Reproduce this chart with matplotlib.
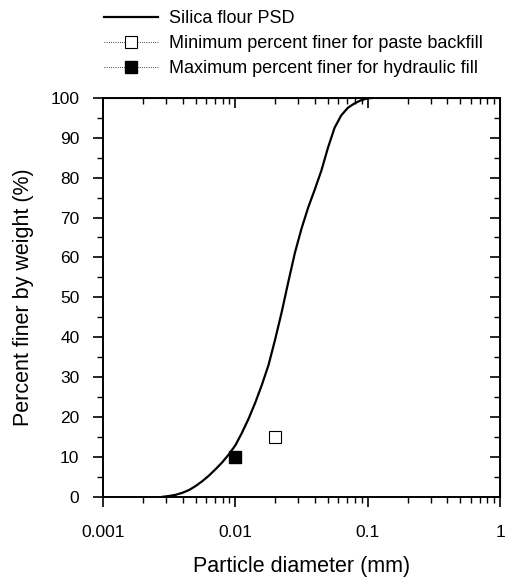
import numpy as np
import matplotlib.pyplot as plt

plt.rcParams['font.family'] = ['Liberation Sans', 'DejaVu Sans']

# curva granulometrica
diametro = [0.00282, 0.00316, 0.00355, 0.00398, 0.00447, 0.00501, 0.00562, 0.00631, 0.00708,
            0.00794, 0.00891, 0.0100, 0.0112, 0.0126, 0.0141, 0.0158, 0.0178, 0.0200, 0.0224,
            0.0251, 0.0282, 0.0316, 0.0355, 0.0398, 0.0447, 0.0501, 0.0562, 0.0631, 0.0708,
            0.0794, 0.0891, 0.100, 0.112, 1.0]
pasa = [0.0, 0.2, 0.5, 1.0, 1.7, 2.7, 3.9, 5.3, 6.9,
        8.6, 10.6, 12.9, 16.0, 19.6, 23.5, 27.9, 33.0, 39.5, 46.3,
        53.8, 61.2, 67.2, 72.5, 77.0, 81.8, 87.5, 92.5, 95.6, 97.5,
        98.6, 99.4, 99.9, 100.0, 100.0]

# puntos de referencia
pasta_x = [0.02]
pasta_y = [15]
hidraulico_x = [0.01]
hidraulico_y = [10]

fig = plt.figure(figsize=(5.06, 5.79), dpi=100)
ax = fig.add_axes([0.2036, 0.142, 0.7846, 0.689])

ax.plot(diametro, pasa, color='black', lw=1.6, label='Silica flour PSD')
ax.plot(pasta_x, pasta_y, ls=':', lw=0.6, color='black', marker='s', ms=8,
        mfc='white', mec='black', mew=0.8, label='Minimum percent finer for paste backfill')
ax.plot(hidraulico_x, hidraulico_y, ls=':', lw=0.6, color='black', marker='s', ms=8,
        mfc='black', mec='black', label='Maximum percent finer for hydraulic fill')

ax.set_xscale('log')
ax.set_xlim(0.001, 1)
ax.set_ylim(0, 100)
ax.set_yticks(np.arange(0, 101, 10))
ax.set_yticks(np.arange(5, 100, 10), minor=True)
ax.set_xticks([0.001, 0.01, 0.1, 1])
ax.set_xticklabels(['0.001', '0.01', '0.1', '1'])

for s in ax.spines.values():
    s.set_linewidth(1.4)

ax.tick_params(which='major', direction='out', length=7, width=1.2, labelsize=12.5)
ax.tick_params(which='minor', direction='out', length=4, width=1.0)
ax.tick_params(axis='x', which='major', pad=13)
ax.tick_params(axis='y', which='major', pad=10)

# ejes espejo arriba y derecha con marcas hacia dentro
top = ax.secondary_xaxis('top')
top.set_xticks([0.001, 0.01, 0.1, 1])
top.tick_params(which='major', direction='in', length=7, width=1.2, labeltop=False)
top.tick_params(which='minor', direction='in', length=4, width=1.0)
right = ax.secondary_yaxis('right')
right.set_yticks(np.arange(0, 101, 10))
right.set_yticks(np.arange(5, 100, 10), minor=True)
right.tick_params(which='major', direction='in', length=7, width=1.2, labelright=False)
right.tick_params(which='minor', direction='in', length=4, width=1.0)

ax.set_xlabel('Particle diameter (mm)', fontsize=15.5)
ax.set_ylabel('Percent finer by weight (%)', fontsize=15.5)
ax.xaxis.set_label_coords(0.5, -0.148)
ax.yaxis.set_label_coords(-0.175, 0.5)

ax.legend(loc='lower left', bbox_to_anchor=(-0.03, 1.02), frameon=False, fontsize=13,
          handlelength=3.0, handletextpad=0.6, labelspacing=0.45, borderaxespad=0.3)

fig.savefig('out.png', dpi=100)
